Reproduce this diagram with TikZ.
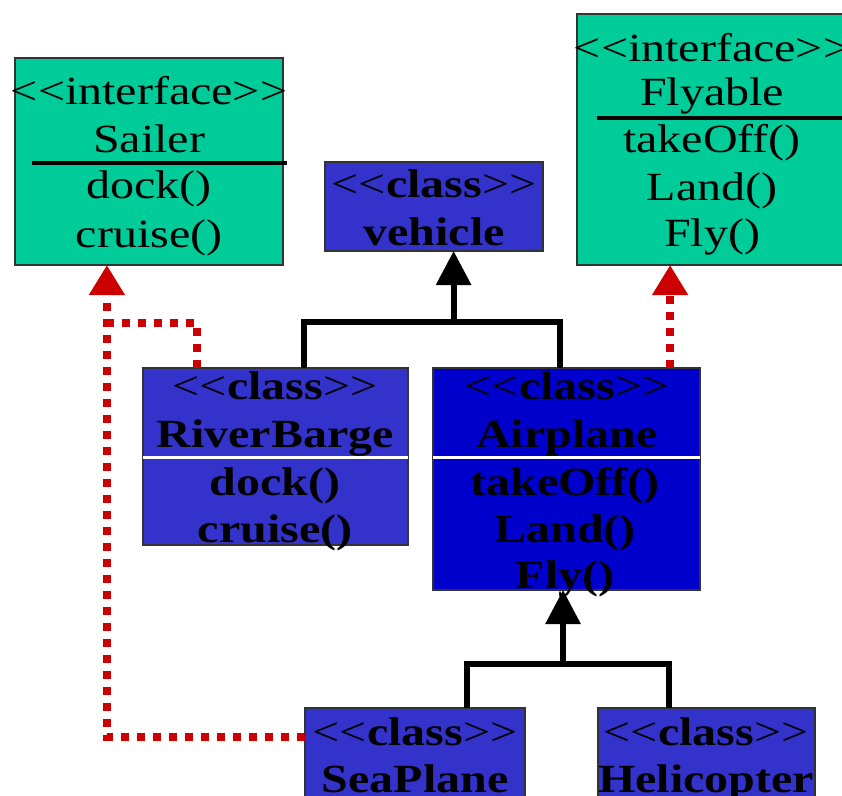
\documentclass[tikz,border=0pt]{standalone}
\usepackage{fontspec}
\setmainfont{Liberation Serif}[FakeStretch=1.2,Ligatures=TeXOff]
\usetikzlibrary{arrows.meta,calc}
\definecolor{igreen}{RGB}{0,204,153}
\definecolor{cblue}{RGB}{51,51,204}
\definecolor{ablue}{RGB}{0,0,204}
\definecolor{rred}{RGB}{204,0,0}
\newcommand{\LL}{\textless\kern0pt\textless}
\newcommand{\GG}{\textgreater\kern0pt\textgreater}
\begin{document}
\begin{tikzpicture}[x=1pt,y=-1pt,
 box/.style={draw=black!80, line width=1.2pt, anchor=north west, inner sep=0pt, outer sep=0pt},
 txt/.style={anchor=base, inner sep=0pt, font=\fontsize{40}{47}\selectfont},
 gen/.style={line width=6pt, line join=miter},
 inh/.style={line width=6pt, -{Triangle[width=34pt,length=34pt]}},
 real/.style={rred, line width=8pt, dash pattern=on 8pt off 8pt},
 realarr/.style={real, -{Triangle[width=34pt,length=30pt,fill=rred,color=rred]}}]
\useasboundingbox (0,0) rectangle (842,795);
% boxes
\node[box, fill=igreen, minimum width=268pt, minimum height=207pt] (sailer) at (15,58) {};
\node[box, fill=igreen, minimum width=270pt, minimum height=251pt] (fly) at (577,14) {};
\node[box, fill=cblue, minimum width=218pt, minimum height=89pt] (vehicle) at (325,162) {};
\node[box, fill=cblue, minimum width=265pt, minimum height=177pt] (rb) at (143,368) {};
\node[box, fill=ablue, minimum width=267pt, minimum height=222pt] (ap) at (433,368) {};
\node[box, fill=cblue, minimum width=220pt, minimum height=120pt] (sp) at (305,708) {};
\node[box, fill=cblue, minimum width=217pt, minimum height=120pt] (hc) at (598,708) {};
% Sailer text
\node[txt] (s1) at (149,104) {\LL interface\GG};
\node[txt] (s2) at (149,152) {Sailer};
\node[txt] (s3) at (149,198) {dock()};
\node[txt] (s4) at (149,247) {cruise()};
\draw[line width=4pt] (32,163) -- (287,163);
% Flyable text
\node[txt] (f1) at (712,61) {\LL interface\GG};
\node[txt] (f2) at (712,105) {Flyable};
\node[txt] (f3) at (712,152) {takeOff()};
\node[txt] (f4) at (712,200) {Land()};
\node[txt] (f5) at (712,246) {Fly()};
\draw[line width=4pt] (597,118) -- (847,118);
% vehicle
\node[txt] (v1) at (434,197) {\LL\textbf{class}\GG};
\node[txt] (v2) at (434,245) {\textbf{vehicle}};
% RiverBarge
\node[txt] (r1) at (275,399) {\LL\textbf{class}\GG};
\node[txt] (r2) at (275,447) {\textbf{RiverBarge}};
\node[txt] (r3) at (275,495) {\textbf{dock()}};
\node[txt] (r4) at (275,542) {\textbf{cruise()}};
\draw[white, line width=3pt] (143,457) -- (408,457);
% Airplane
\node[txt] (a1) at (567,399) {\LL\textbf{class}\GG};
\node[txt] (a2) at (567,447) {\textbf{Airplane}};
\node[txt] (a3) at (565,495) {\textbf{takeOff()}};
\node[txt] (a4) at (565,542) {\textbf{Land()}};
\node[txt] (a5) at (565,588) {\textbf{Fly()}};
\draw[white, line width=3pt] (433,457) -- (700,457);
% SeaPlane, Helicopter
\node[txt] (p1) at (415,745) {\LL\textbf{class}\GG};
\node[txt] (p2) at (415,792) {\textbf{SeaPlane}};
\node[txt] (h1) at (706,745) {\LL\textbf{class}\GG};
\node[txt] (h2) at (706,792) {\textbf{Helicopter}};
% generalisation to vehicle
\coordinate (vtip) at ($(vehicle.south west)!0.59!(vehicle.south east)$);
\coordinate (rbt) at ($(rb.north west)!0.607!(rb.north east)$);
\coordinate (apt) at ($(ap.north west)!0.476!(ap.north east)$);
\coordinate (j1) at ($(vtip)+(0,71)$);
\draw[gen] (rbt) |- (j1) -| (apt);
\draw[inh] (j1) -- (vtip);
% generalisation to Airplane
\coordinate (atip) at ($(ap.south west)!0.487!(ap.south east)$);
\coordinate (spt) at ($(sp.north west)!0.736!(sp.north east)$);
\coordinate (hct) at ($(hc.north west)!0.327!(hc.north east)$);
\coordinate (j2) at ($(atip)+(0,74)$);
\draw[gen] (spt) |- (j2) -| (hct);
\draw[inh] (j2) -- (atip);
% realisations
\coordinate (stip) at ($(sailer.south west)!0.343!(sailer.south east)$);
\coordinate (spw) at ($(sp.north west)+(0,29)$);
\draw[realarr] (spw) -| (stip);
\coordinate (rbs) at ($(rb.north west)!0.204!(rb.north east)$);
\coordinate (rbj) at ($(stip)+(0,58)$);
\draw[real] (rbs) |- (rbj);
\coordinate (apf) at ($(ap.north west)!0.888!(ap.north east)$);
\draw[realarr] (apf) -- (apf |- fly.south);
\end{tikzpicture}
\end{document}
